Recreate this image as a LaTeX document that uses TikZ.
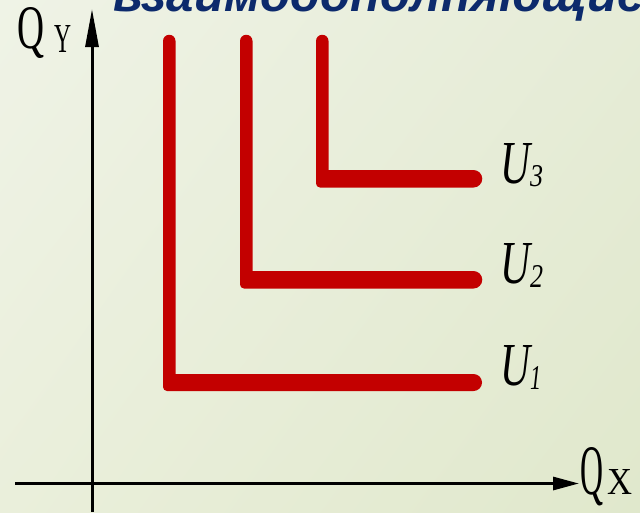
\documentclass[tikz,border=0pt]{standalone}
\usepackage{fontspec}
\setmainfont{Liberation Serif}
\newfontfamily\titlefont{Liberation Sans}
\usetikzlibrary{arrows.meta,shadings}
\definecolor{redc}{HTML}{C30000}
\definecolor{navy}{HTML}{0C2A6C}
\definecolor{bgA}{HTML}{EFF3E6}
\definecolor{bgB}{HTML}{E6ECD7}
\definecolor{bgC}{HTML}{EAEFDB}
\definecolor{bgD}{HTML}{E0E8CC}
\tikzset{
  axis/.style={line width=3pt, -{Triangle[length=#1, width=13pt]}},
  curve/.style={fill=redc},
  lab/.style={inner sep=0pt, outer sep=0pt, anchor=base west},
}
\newcommand{\rb}[3]{\resizebox{#1}{#2}{#3}}
\begin{document}
\begin{tikzpicture}[x=1pt,y=1pt]
\useasboundingbox (0,0) rectangle (640,-512);
\clip (0,0) rectangle (640,-512);
\shade[upper left=bgA, upper right=bgB, lower left=bgC, lower right=bgD] (0,0) rectangle (640,-512);
% title (cut off at top, as in the original)
\node[lab, text=navy] (title) at (113,-11) {\rb{532pt}{!}{\titlefont\bfseries\itshape\fontsize{52}{60}\selectfont взаимодополняющие}};
% axes
\coordinate (yb) at (92,-512);
\coordinate (yt) at (92,-9);
\coordinate (xl) at (15,-483.5);
\coordinate (xr) at (579,-483.5);
\draw[axis=38pt] (yb) -- (yt);
\draw[axis=26pt] (xl) -- (xr);
% axis labels
\node[lab] (qy) at (18,-48) {\rb{27pt}{41pt}{Q}\hspace{9pt}\raisebox{-4pt}{\rb{17pt}{27pt}{Y}}};
\node[lab] (qx) at (580,-494) {\rb{23pt}{47pt}{Q}\hspace{4pt}\rb{25pt}{25pt}{X}};
% indifference curves
\fill[curve] (175.5,-41) arc[start angle=0,end angle=180,radius=6.25] -- (163,-380) [rounded corners=4pt] -- (163,-391) -- (190,-391) [sharp corners] -- (473.5,-391) arc[start angle=-90,end angle=90,radius=8.5] -- (175.5,-374) -- cycle;
\fill[curve] (252.5,-41) arc[start angle=0,end angle=180,radius=6.25] -- (240,-278) [rounded corners=4pt] -- (240,-288.5) -- (265,-288.5) [sharp corners] -- (473.5,-288.5) arc[start angle=-90,end angle=90,radius=8.75] -- (252.5,-271) -- cycle;
\fill[curve] (328.5,-41) arc[start angle=0,end angle=180,radius=6.25] -- (316,-178) [rounded corners=4pt] -- (316,-187.5) -- (340,-187.5) [sharp corners] -- (473.5,-187.5) arc[start angle=-90,end angle=90,radius=8.75] -- (328.5,-170) -- cycle;
% curve labels
\node[lab] (u3) at (500,-183) {\rb{30pt}{40pt}{\itshape U}\raisebox{-3pt}{\rb{13pt}{21pt}{\itshape 3}}};
\node[lab] (u2) at (500,-283) {\rb{30pt}{40pt}{\itshape U}\raisebox{-4pt}{\rb{13pt}{22pt}{\itshape 2}}};
\node[lab] (u1) at (500,-385) {\rb{30pt}{40pt}{\itshape U}\raisebox{-4pt}{\rb{11pt}{23pt}{\itshape 1}}};
\end{tikzpicture}
\end{document}
